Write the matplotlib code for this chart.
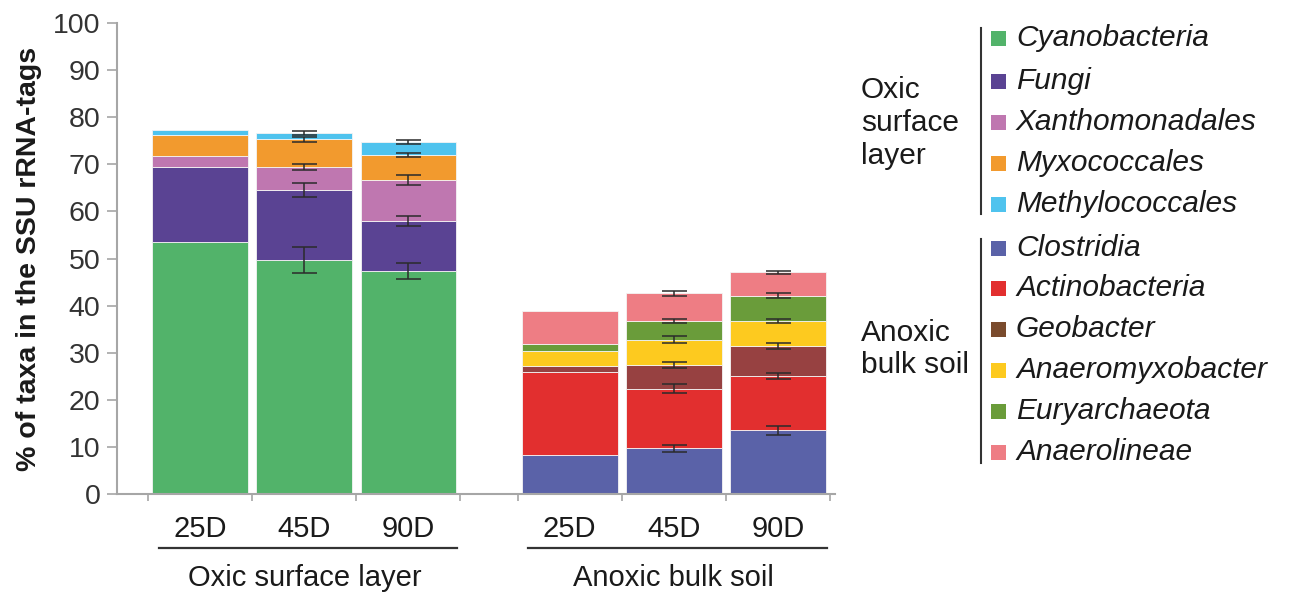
import numpy as np
import matplotlib
matplotlib.use('Agg')
import matplotlib.pyplot as plt
from matplotlib.patches import Rectangle
from matplotlib.lines import Line2D

plt.rcParams['font.family'] = ['Liberation Sans', 'DejaVu Sans']

days = ['25D', '45D', '90D']
groups = ['Oxic surface layer', 'Anoxic bulk soil']

# oxic surface layer, % per taxon (bottom -> top of the stack)
oxic_taxa = ['Cyanobacteria', 'Fungi', 'Xanthomonadales', 'Myxococcales', 'Methylococcales']
oxic_colors = ['#52b36a', '#5a4393', '#bf77b0', '#f29a2e', '#4fc3ee']
oxic_25 = [53.6, 15.8, 2.4, 4.4, 1.1]
oxic_45 = [49.7, 14.8, 5.0, 5.8, 1.3]
oxic_90 = [47.3, 10.7, 8.7, 5.3, 2.8]
oxic_25_sd = [0, 0, 0, 0, 0]
oxic_45_sd = [2.7, 1.5, 0.6, 0.6, 0.4]
oxic_90_sd = [1.7, 1.0, 1.0, 0.4, 0.4]

# anoxic bulk soil
anox_taxa = ['Clostridia', 'Actinobacteria', 'Geobacter', 'Anaeromyxobacter',
             'Euryarchaeota', 'Anaerolineae']
anox_colors = ['#5a62a8', '#e22f2f', '#974141', '#fdca1f', '#6a9c3a', '#ee7d84']
anox_legend_colors = ['#5a62a8', '#e22f2f', '#7a4b2d', '#fdca1f', '#6a9c3a', '#ee7d84']
anox_25 = [8.2, 17.7, 1.3, 3.2, 1.4, 7.1]
anox_45 = [9.7, 12.7, 5.0, 5.4, 3.9, 5.9]
anox_90 = [13.5, 11.6, 6.3, 5.3, 5.4, 5.0]
anox_25_sd = [0, 0, 0, 0, 0, 0]
anox_45_sd = [0.8, 1.0, 0.6, 0.8, 0.4, 0.6]
anox_90_sd = [1.0, 0.7, 0.6, 0.45, 0.5, 0.3]

oxic_x = np.array([0, 1, 2])
anox_x = np.array([3.55, 4.55, 5.55])
width = 0.92

fig = plt.figure(figsize=(12.89, 5.92), dpi=100)
ax = fig.add_axes([0.0908, 0.1655, 0.557, 0.7956])

def stack(xs, data, sds, colors):
    for x, vals, sd in zip(xs, data, sds):
        bottom = 0
        for v, s, c in zip(vals, sd, colors):
            ax.bar(x, v, width, bottom=bottom, color=c, edgecolor='#f4f4f4', linewidth=0.6, zorder=2)
            if s > 0:
                ax.errorbar(x, bottom + v, yerr=s, fmt='none', ecolor='#2b2b2b',
                            elinewidth=1.1, capsize=9, capthick=1.1, zorder=3)
            bottom += v

stack(oxic_x, [oxic_25, oxic_45, oxic_90], [oxic_25_sd, oxic_45_sd, oxic_90_sd], oxic_colors)
stack(anox_x, [anox_25, anox_45, anox_90], [anox_25_sd, anox_45_sd, anox_90_sd], anox_colors)

ax.set_xlim(-0.80, 6.10)
ax.set_ylim(0, 100)
ax.set_yticks(np.arange(0, 101, 10))
for s in ['top', 'right']:
    ax.spines[s].set_visible(False)
for s in ['left', 'bottom']:
    ax.spines[s].set_color('#a6a6a6')
    ax.spines[s].set_linewidth(1.5)
ax.tick_params(axis='y', direction='out', length=7, width=1.2, color='#a6a6a6',
               labelsize=20.5, labelcolor='#333333', pad=5)

# category boundaries as ticks, day labels at bar centres
bounds = list(oxic_x - 0.5) + [2.5] + list(anox_x - 0.5) + [6.05]
ax.set_xticks(bounds, minor=True)
ax.set_xticks(np.concatenate([oxic_x, anox_x]))
ax.set_xticklabels(days + days)
ax.tick_params(axis='x', which='minor', direction='out', length=5, width=1.2, color='#a6a6a6')
ax.tick_params(axis='x', which='major', length=0, labelsize=21, labelcolor='#1a1a1a', pad=15)

ax.set_ylabel('% of taxa in the SSU rRNA-tags', fontsize=20.5, fontweight='bold',
              color='#1a1a1a', labelpad=8)

trans = ax.get_xaxis_transform()
for xs, name in [(oxic_x, groups[0]), (anox_x, groups[1])]:
    ax.add_line(Line2D([xs[0] - 0.4, xs[-1] + 0.47], [-0.1146, -0.1146], transform=trans,
                       color='#333333', lw=1.6, clip_on=False))
    ax.text(xs.mean(), -0.178, name, transform=trans, ha='center', va='center',
            fontsize=21, color='#1a1a1a')

# legend on the right, grouped by habitat
H, W = 592.0, 1289.0
def fx(px): return px / W
def fy(py): return 1 - py / H

oxic_rows = [38, 81, 122, 163, 204]
anox_rows = [248, 288, 329, 370, 411, 452]
sq = 15
for rows, taxa, cols in [(oxic_rows, oxic_taxa, oxic_colors),
                         (anox_rows, anox_taxa, anox_legend_colors)]:
    for r, t, c in zip(rows, taxa, cols):
        fig.patches.append(Rectangle((fx(991), fy(r + sq / 2)), sq / W, sq / H,
                                     transform=fig.transFigure, facecolor=c,
                                     edgecolor='none'))
        fig.text(fx(1016), fy(r), t, fontsize=21.5, style='italic', ha='left', va='center',
                 color='#1a1a1a')

fig.add_artist(Line2D([fx(981), fx(981)], [fy(28), fy(214)], color='#333333', lw=1.5))
fig.add_artist(Line2D([fx(981), fx(981)], [fy(239), fy(463)], color='#333333', lw=1.5))

fig.text(fx(861), fy(123), 'Oxic\nsurface\nlayer', fontsize=21.5, ha='left', va='center',
         linespacing=1.22, color='#1a1a1a')
fig.text(fx(861), fy(349), 'Anoxic\nbulk soil', fontsize=21.5, ha='left', va='center',
         linespacing=1.22, color='#1a1a1a')

fig.savefig('out.png', dpi=100)
